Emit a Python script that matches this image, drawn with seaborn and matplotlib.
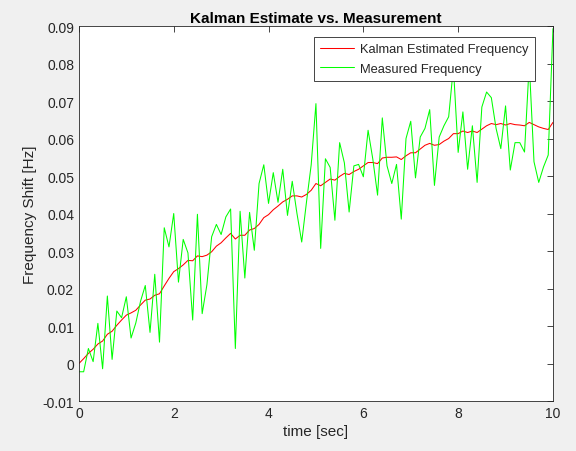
import numpy as np
import pandas as pd
import matplotlib
matplotlib.use("Agg")
import matplotlib.pyplot as plt
import seaborn as sns
from matplotlib.ticker import FuncFormatter

time_sec = [round(0.1 * k, 1) for k in range(101)]

measured = [
    -0.0022, -0.0022, 0.0040, 0.0005, 0.0107, -0.0014, 0.0180, 0.0011, 0.0140, 0.0122,
    0.0178, 0.0068, 0.0108, 0.0166, 0.0208, 0.0083, 0.0238, 0.0057, 0.0362, 0.0311,
    0.0400, 0.0217, 0.0331, 0.0295, 0.0116, 0.0398, 0.0133, 0.0210, 0.0338, 0.0371,
    0.0344, 0.0391, 0.0412, 0.0040, 0.0406, 0.0228, 0.0403, 0.0302, 0.0480, 0.0530,
    0.0427, 0.0509, 0.0430, 0.0518, 0.0395, 0.0486, 0.0400, 0.0324, 0.0430, 0.0530,
    0.0693, 0.0307, 0.0546, 0.0523, 0.0382, 0.0589, 0.0535, 0.0404, 0.0527, 0.0531,
    0.0498, 0.0622, 0.0545, 0.0449, 0.0655, 0.0527, 0.0480, 0.0531, 0.0385, 0.0600,
    0.0646, 0.0495, 0.0604, 0.0627, 0.0677, 0.0475, 0.0604, 0.0634, 0.0658, 0.0790,
    0.0563, 0.0671, 0.0518, 0.0634, 0.0483, 0.0684, 0.0724, 0.0709, 0.0627, 0.0573,
    0.0687, 0.0516, 0.0589, 0.0589, 0.0564, 0.0800, 0.0538, 0.0483, 0.0524, 0.0556,
    0.0893,
]

kalman = [
    0.0000, 0.0013, 0.0027, 0.0038, 0.0052, 0.0060, 0.0078, 0.0086, 0.0102, 0.0116,
    0.0129, 0.0135, 0.0142, 0.0156, 0.0169, 0.0172, 0.0182, 0.0186, 0.0207, 0.0227,
    0.0245, 0.0253, 0.0263, 0.0275, 0.0274, 0.0287, 0.0285, 0.0289, 0.0298, 0.0313,
    0.0322, 0.0335, 0.0347, 0.0332, 0.0342, 0.0342, 0.0356, 0.0360, 0.0371, 0.0389,
    0.0397, 0.0410, 0.0420, 0.0431, 0.0438, 0.0447, 0.0447, 0.0444, 0.0451, 0.0462,
    0.0480, 0.0474, 0.0483, 0.0492, 0.0489, 0.0499, 0.0507, 0.0504, 0.0512, 0.0518,
    0.0527, 0.0536, 0.0536, 0.0533, 0.0548, 0.0550, 0.0550, 0.0551, 0.0544, 0.0554,
    0.0562, 0.0562, 0.0572, 0.0582, 0.0587, 0.0582, 0.0584, 0.0593, 0.0600, 0.0613,
    0.0613, 0.0620, 0.0616, 0.0620, 0.0616, 0.0625, 0.0634, 0.0640, 0.0637, 0.0640,
    0.0636, 0.0640, 0.0637, 0.0636, 0.0634, 0.0643, 0.0637, 0.0631, 0.0627, 0.0624,
    0.0643,
]

series_names = ["Kalman Estimated Frequency", "Measured Frequency"]
series_colors = ["#ff0000", "#00ff00"]
x_ticks = [0, 2, 4, 6, 8, 10]
y_ticks = [-0.01, 0.0, 0.01, 0.02, 0.03, 0.04, 0.05, 0.06, 0.07, 0.08, 0.09]

df = pd.DataFrame({
    "time": time_sec * 2,
    "value": kalman + measured,
    "series": [series_names[0]] * len(kalman) + [series_names[1]] * len(measured),
})

sns.set_style("white")
plt.rcParams["font.family"] = ["Liberation Sans", "DejaVu Sans"]
plt.rcParams["axes.unicode_minus"] = False

fig = plt.figure(figsize=(5.76, 4.52), dpi=100, facecolor="#f0f0f0")
ax = fig.add_axes([0.137, 0.1106, 0.823, 0.8296])
ax.set_facecolor("white")

sns.lineplot(data=df, x="time", y="value", hue="series", hue_order=series_names,
             palette=series_colors, linewidth=0.75, ax=ax, legend=True)

ax.set_xlim(0, 10)
ax.set_ylim(-0.01, 0.09)
ax.set_xticks(x_ticks)
ax.set_yticks(y_ticks)
ax.yaxis.set_major_formatter(FuncFormatter(lambda v, p: "%g" % round(v, 4)))
ax.tick_params(direction="in", length=4, width=0.6, top=True, right=True,
               labelsize=10, colors="#262626", labelcolor="#262626")
for s in ax.spines.values():
    s.set_visible(True)
    s.set_color("#262626")
    s.set_linewidth(0.6)

ax.set_xlabel("time [sec]", fontsize=11, color="#262626", labelpad=3)
ax.set_ylabel("Frequency Shift [Hz]", fontsize=11, color="#262626", labelpad=4)
ax.set_title("Kalman Estimate vs. Measurement", fontsize=11, fontweight="bold",
             color="black", pad=3)

leg = ax.legend(loc="upper right", bbox_to_anchor=(0.963, 0.972), fontsize=9.3,
                frameon=True, fancybox=False, framealpha=1, edgecolor="#262626",
                handlelength=2.6, handletextpad=0.5, borderpad=0.5,
                labelspacing=0.6, borderaxespad=0.0)
leg.get_frame().set_linewidth(0.6)
for line in leg.get_lines():
    line.set_linewidth(0.75)

fig.savefig("out.png", dpi=100, facecolor=fig.get_facecolor())
